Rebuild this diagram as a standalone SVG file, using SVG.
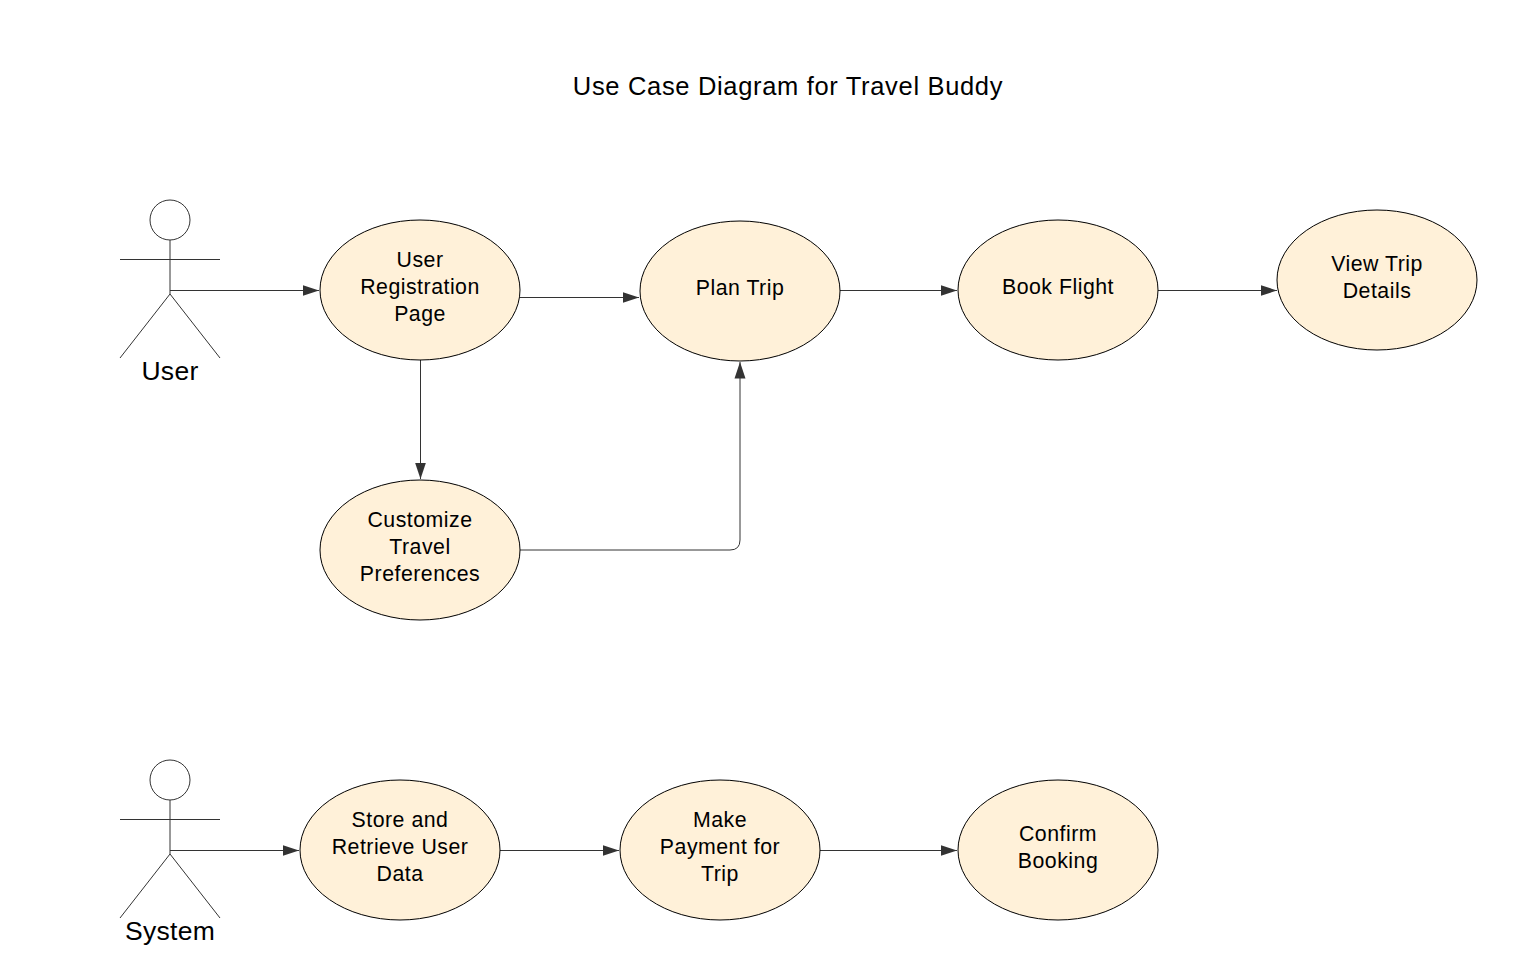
<svg xmlns="http://www.w3.org/2000/svg" width="1517" height="980" viewBox="0 0 1517 980">
<style>
text{font-family:"Liberation Sans",Arial,sans-serif;font-size:21.3px;letter-spacing:.5px;fill:#000;text-anchor:middle}
.t{font-size:25.5px;letter-spacing:.67px}
.a{font-size:26.5px;letter-spacing:.3px}
ellipse{fill:#fff1d9;stroke:#000;stroke-width:1}
.actor{fill:none;stroke:#333;stroke-width:1}
.c{fill:none;stroke:#333;stroke-width:1;marker-end:url(#arr)}
</style>
<defs>
<marker id="arr" markerUnits="userSpaceOnUse" markerWidth="18" markerHeight="13" refX="16.5" refY="6.5" orient="auto"><path d="M0 1 L16.5 6.5 L0 12 Z" fill="#333"/></marker>
</defs>
<rect width="1517" height="980" fill="#fff"/>
<text class="t" x="788" y="95">Use Case Diagram for Travel Buddy</text>
<g id="connectors">
<path class="c" d="M170 290.5H319"/>
<path class="c" d="M520 297.5H639"/>
<path class="c" d="M840 290.5H957"/>
<path class="c" d="M1158 290.5H1277"/>
<path class="c" d="M420.5 360V479"/>
<path class="c" d="M520 550H730Q740 550 740 540V362"/>
<path class="c" d="M170 850.5H299"/>
<path class="c" d="M500 850.5H619"/>
<path class="c" d="M820 850.5H957"/>
</g>
<g id="actor-user"><circle class="actor" cx="170" cy="220" r="20"/><path class="actor" d="M170 240V294M120 259.5H220M120 358L170 294L220 358"/><text class="a" x="170" y="380">User</text></g>
<g id="actor-system"><circle class="actor" cx="170" cy="780" r="20"/><path class="actor" d="M170 800V854M120 819.5H220M120 918L170 854L220 918"/><text class="a" x="170" y="940">System</text></g>
<g id="uc-register"><ellipse cx="420" cy="290" rx="100" ry="70"/><text x="420" y="267">User</text><text x="420" y="294">Registration</text><text x="420" y="321">Page</text></g>
<g id="uc-plan"><ellipse cx="740" cy="291" rx="100" ry="70"/><text x="740" y="295">Plan Trip</text></g>
<g id="uc-book"><ellipse cx="1058" cy="290" rx="100" ry="70"/><text x="1058" y="294">Book Flight</text></g>
<g id="uc-view"><ellipse cx="1377" cy="280" rx="100" ry="70"/><text x="1377" y="271">View Trip</text><text x="1377" y="298">Details</text></g>
<g id="uc-customize"><ellipse cx="420" cy="550" rx="100" ry="70"/><text x="420" y="527">Customize</text><text x="420" y="554">Travel</text><text x="420" y="581">Preferences</text></g>
<g id="uc-store"><ellipse cx="400" cy="850" rx="100" ry="70"/><text x="400" y="827">Store and</text><text x="400" y="854">Retrieve User</text><text x="400" y="881">Data</text></g>
<g id="uc-pay"><ellipse cx="720" cy="850" rx="100" ry="70"/><text x="720" y="827">Make</text><text x="720" y="854">Payment for</text><text x="720" y="881">Trip</text></g>
<g id="uc-confirm"><ellipse cx="1058" cy="850" rx="100" ry="70"/><text x="1058" y="841">Confirm</text><text x="1058" y="868">Booking</text></g>
</svg>
